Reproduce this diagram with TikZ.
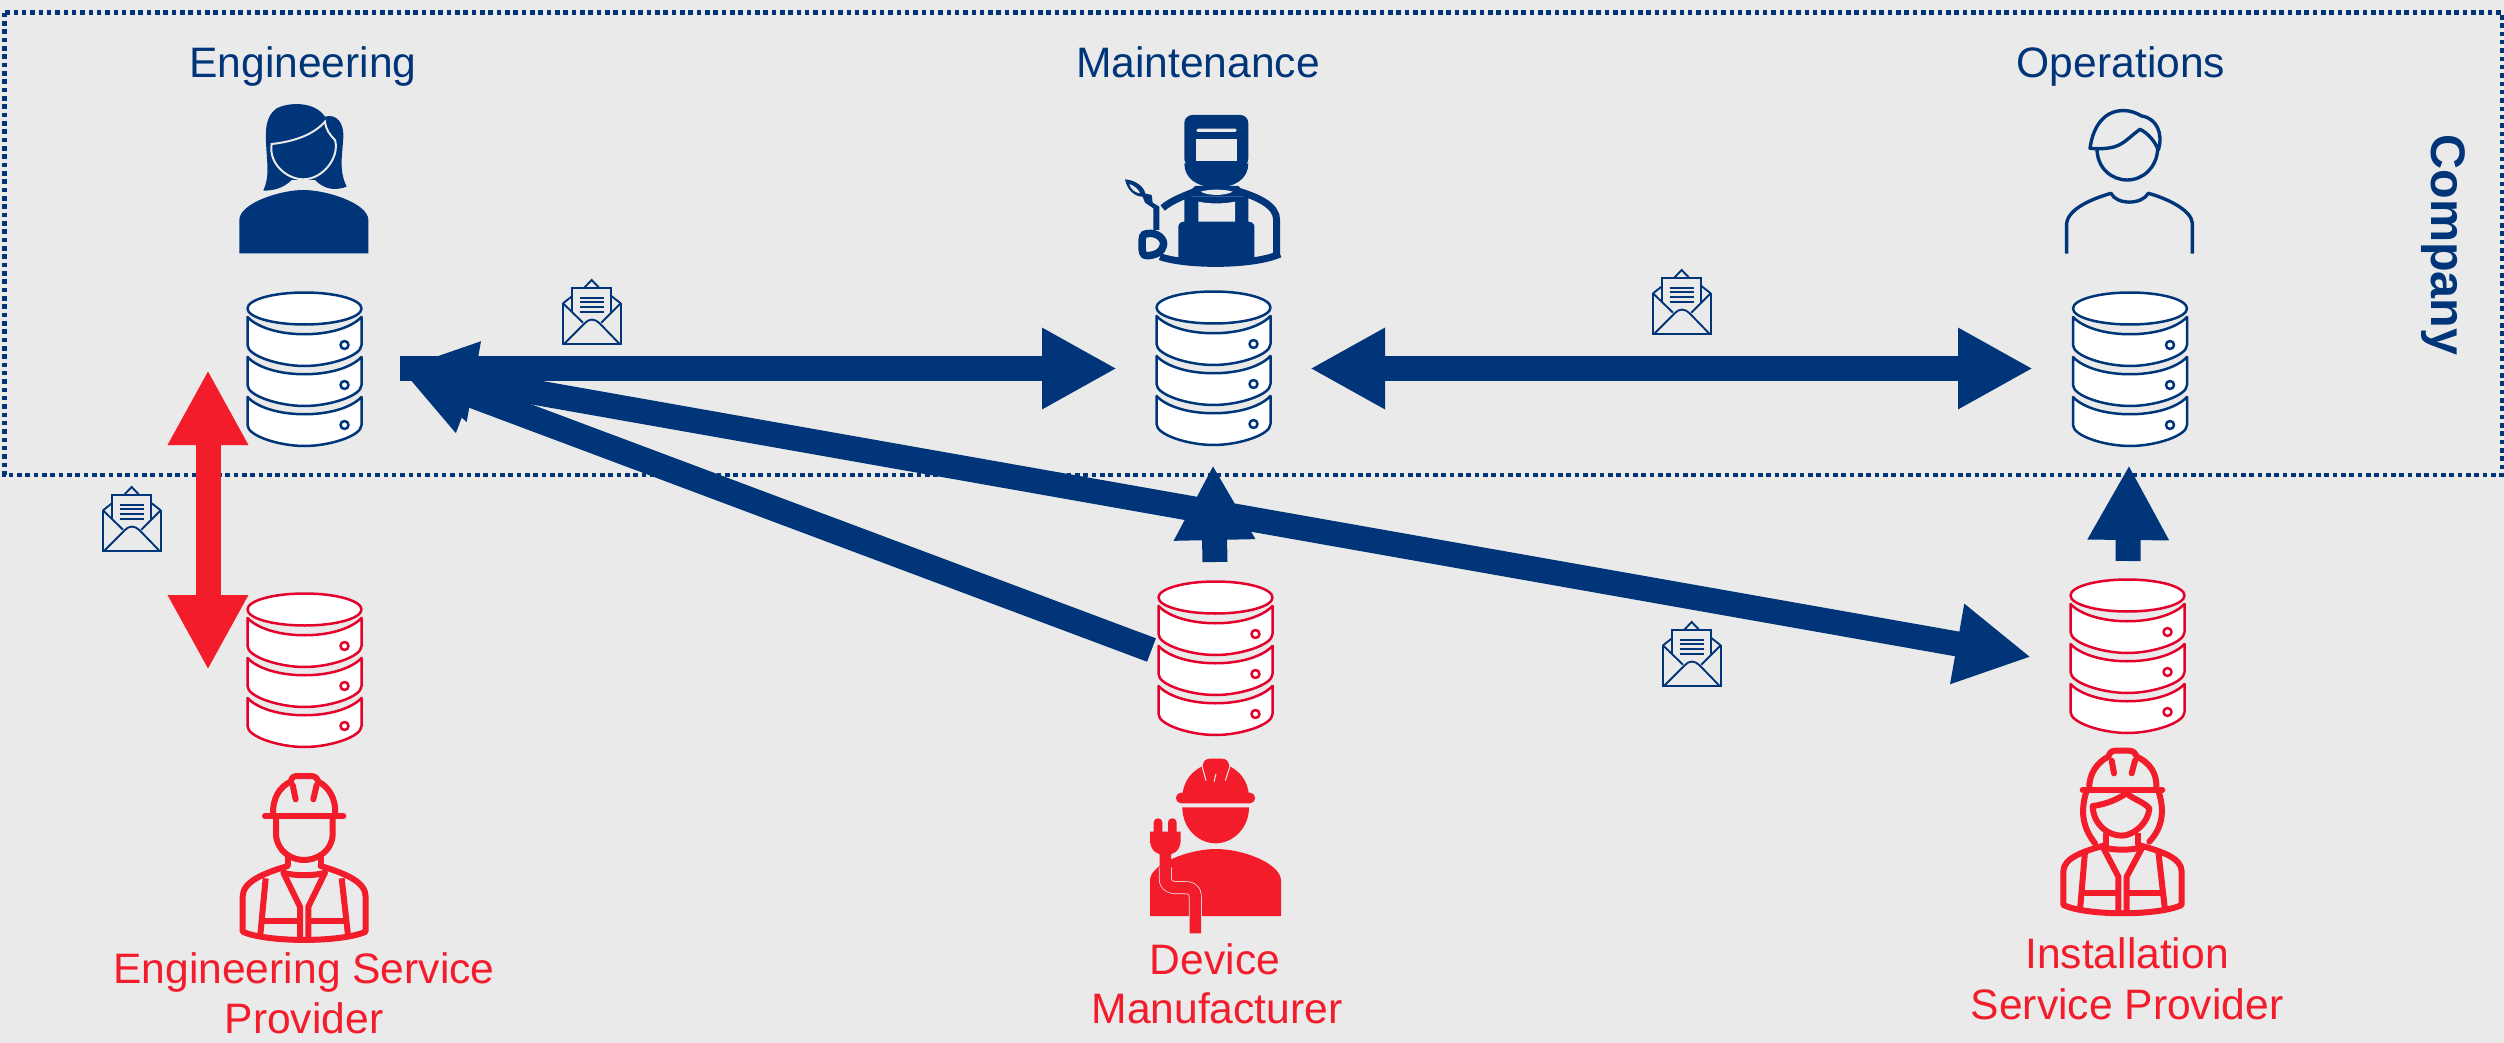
\documentclass[tikz,border=0pt]{standalone}
\usepackage{fontspec}
\setmainfont{Liberation Sans}
\usetikzlibrary{arrows.meta}
\definecolor{navy}{RGB}{0,54,121}
\definecolor{redarrow}{RGB}{242,28,43}
\definecolor{reddb}{RGB}{228,0,43}
\definecolor{bggray}{RGB}{234,234,234}
\tikzset{
  x=1pt,y=-1pt,
  lblnavy/.style={text=navy,anchor=base,font=\fontsize{42.6}{42.6}\selectfont,inner sep=0pt},
  lblred/.style={text=redarrow,anchor=base,font=\fontsize{42.6}{42.6}\selectfont,inner sep=0pt},
  blockarrow/.style={line width=25pt,navy,-{Triangle[length=75pt,width=76pt]}},
  blockboth/.style={line width=25pt,navy,{Triangle[length=75pt,width=76pt]}-{Triangle[length=75pt,width=76pt]}},
  redboth/.style={line width=25pt,redarrow,{Triangle[length=75pt,width=75pt]}-{Triangle[length=75pt,width=75pt]}},
  pics/dbicon/.style={code={
    \begin{scope}[line width=2.5pt,draw=#1,fill=white,line join=round]
      \foreach \t in {105,65,25}{
        \filldraw (-57,\t) .. controls (-35,\t+23) and (35,\t+23) .. (57,\t) -- (57,\t+28)
          .. controls (57,\t+39) and (25,\t+49) .. (0,\t+49)
          .. controls (-25,\t+49) and (-57,\t+39) .. (-57,\t+28) -- cycle;
        \filldraw (40,\t+28) circle[radius=4pt];
      }
      \filldraw (0,16.5) ellipse[x radius=57,y radius=16];
    \end{scope}
  }},
  pics/mailicon/.style={code={
    \begin{scope}[scale=1/3,line width=1.9pt,draw=navy,line join=miter]
      \draw (0,70) -- (0,193) -- (173,193) -- (173,70);
      \draw (0,70) -- (28,48) (173,70) -- (145,48) (62,25) -- (86,0) -- (110,25);
      \draw (28,95) -- (28,25) -- (145,25) -- (145,95);
      \draw (0,70) -- (60,128) (173,70) -- (115,128);
      \draw (5,190) -- (65,130) .. controls (78,115) and (95,115) .. (110,130) -- (168,190);
      \foreach \yy in {53,67,81,95}{\draw[line width=2.1pt] (50,\yy) -- (122,\yy);}
    \end{scope}
  }}
}
\begin{document}
\begin{tikzpicture}
\useasboundingbox (0,0) rectangle (2504,1043);
\fill[bggray] (0,0) rectangle (2504,1043);

% company frame
\coordinate (frameTL) at (4.5,12.7);
\coordinate (frameBR) at (2502,475);
\draw[navy,line width=4.5pt,dash pattern=on 4.6pt off 3.73pt] (frameTL) rectangle (frameBR);

% labels
\node[lblnavy] (lEng) at (303,78) {Engineering};
\node[lblnavy] (lMai) at (1198,78) {Maintenance};
\node[lblnavy] (lOps) at (2121,78) {Operations};
\node[text=navy,font=\fontsize{48.5}{48.5}\selectfont\bfseries,rotate=-90,inner sep=0pt] (lCompany) at (2443,245) {Company};
\node[lblred] (lEsp1) at (304,983) {Engineering Service};
\node[lblred] (lEsp2) at (304,1033) {Provider};
\node[lblred] (lDev1) at (1215,974) {Device};
\node[lblred] (lDev2) at (1217,1023) {Manufacturer};
\node[lblred] (lIns1) at (2127,968) {Installation};
\node[lblred] (lIns2) at (2127,1019) {Service Provider};

% databases
\pic (dbEng) at (304.5,292) {dbicon=navy};
\pic (dbMai) at (1213.5,291) {dbicon=navy};
\pic (dbOps) at (2130,292) {dbicon=navy};
\pic (dbEsp) at (304.5,593) {dbicon=reddb};
\pic (dbDev) at (1215.5,581) {dbicon=reddb};
\pic (dbIns) at (2127.5,579) {dbicon=reddb};

% mail
\pic (mailA) at (563,280) {mailicon};
\pic (mailB) at (1653,270) {mailicon};
\pic (mailC) at (1663,622) {mailicon};
\pic (mailD) at (103,487) {mailicon};

% connector ends
\coordinate (engPort) at (400,368.5);
\coordinate (maiW) at (1117,368.5);
\coordinate (maiE) at (1310,368.5);
\coordinate (opsW) at (2033,368.5);
\coordinate (insW) at (2031,657);
\coordinate (devW) at (1151.5,650);
\coordinate (devN) at (1215,562);
\coordinate (maiS) at (1213,465);
\coordinate (insN) at (2128,561);
\coordinate (opsS) at (2129,465);
\coordinate (espN) at (208,670);
\coordinate (engSW) at (208,370);

\draw[blockarrow] (devN) -- (maiS);
\draw[blockarrow] (insN) -- (opsS);
\draw[blockarrow] (engPort) -- (maiW);
\draw[blockboth] (maiE) -- (opsW);
\draw[blockarrow] (devW) -- (engPort);
\draw[blockboth] (engPort) -- (insW);
\draw[redboth] (engSW) -- (espN);

% Engineering woman
\begin{scope}[shift={(150,20)},scale=1/3]
  \fill[navy] (340,512) .. controls (358,470) and (352,440) .. (350,400)
    .. controls (345,330) and (345,290) .. (380,265)
    .. controls (420,245) and (495,245) .. (525,290)
    .. controls (560,280) and (582,310) .. (580,350)
    .. controls (578,400) and (565,450) .. (590,500)
    .. controls (550,515) and (520,505) .. (495,480) -- (425,480)
    .. controls (400,505) and (370,512) .. (340,512) -- cycle;
  \filldraw[fill=navy,draw=bggray,line width=2pt] (365,372)
    .. controls (430,365) and (490,345) .. (525,305)
    .. controls (528,330) and (540,345) .. (555,360)
    .. controls (570,410) and (520,478) .. (460,478)
    .. controls (410,478) and (355,430) .. (365,372) -- cycle;
  \fill[navy] (268,700) -- (268,600)
    .. controls (268,550) and (390,510) .. (460,510)
    .. controls (530,510) and (655,550) .. (655,600) -- (655,700) -- cycle;
\end{scope}

% Maintenance welder
\begin{scope}[shift={(1080,80)},scale=1/3]
  \fill[navy,rounded corners=8pt] (313,105) -- (505,105) -- (505,260) -- (313,260) -- cycle;
  \fill[navy] (313,250) .. controls (313,295) and (350,322) .. (409,322)
     .. controls (468,322) and (505,295) .. (505,250) -- cycle;
  \fill[bggray] (349,178) rectangle (470,243);
  \fill[bggray,rounded corners=1.5pt] (349,146) rectangle (470,156);
  \draw[navy,line width=7pt] (248,384) .. controls (275,360) and (320,345) .. (350,332);
  \draw[navy,line width=7pt] (470,332) .. controls (530,350) and (590,375) .. (590,420) -- (590,528);
  \fill[navy] (345,318) -- (475,318) -- (505,350) -- (313,350) -- cycle;
  \fill[navy] (313,350) -- (505,350) -- (505,425) .. controls (523,425) and (523,440) .. (523,440) -- (523,550) -- (295,550) -- (295,440) .. controls (295,425) and (313,425) .. (313,425) -- cycle;
  \fill[bggray] (355,365) .. controls (390,372) and (430,372) .. (465,365) -- (465,425) -- (355,425) -- cycle;
  \fill[bggray] (362,335) .. controls (385,327) and (435,327) .. (458,335) .. controls (435,348) and (385,348) .. (362,335) -- cycle;
  \draw[navy,line width=7pt] (240,530) .. controls (320,558) and (520,558) .. (600,522);
  % torch
  \fill[navy] (135,298) .. controls (170,300) and (195,325) .. (195,340) -- (215,345) -- (218,368) -- (238,380) -- (238,450) -- (220,450) -- (220,385) -- (195,368) -- (188,350) .. controls (160,350) and (140,325) .. (135,298) -- cycle;
  \fill[bggray] (148,312) .. controls (165,318) and (175,328) .. (180,340) .. controls (165,338) and (152,328) .. (148,312) -- cycle;
  \draw[navy,line width=7.5pt] (200,461) .. controls (235,455) and (255,480) .. (250,497)
     .. controls (248,515) and (225,527) .. (200,527)
     .. controls (188,527) and (186,515) .. (186,495)
     .. controls (186,470) and (188,462) .. (200,461) -- cycle;
\end{scope}

% Operations man
\begin{scope}[shift={(2000,80)},scale=1/3,navy,line width=3.4pt,line join=round]
  \draw (291,205) .. controls (291,265) and (335,300) .. (382,300) .. controls (430,300) and (472,260) .. (473,205);
  \draw (270,205) .. controls (280,130) and (320,90) .. (372,92)
     .. controls (395,92) and (410,100) .. (425,108)
     .. controls (470,115) and (490,160) .. (475,210)
     .. controls (465,185) and (445,160) .. (420,148)
     .. controls (395,165) and (375,190) .. (345,200)
     .. controls (320,207) and (295,207) .. (270,205) -- cycle;
  \draw (200,521) -- (200,430) .. controls (205,385) and (280,355) .. (333,340)
     .. controls (350,375) and (425,375) .. (445,340)
     .. controls (500,355) and (575,390) .. (577,430) -- (577,521);
\end{scope}

% Engineering service provider
\begin{scope}[shift={(200,740)},scale=1/3,redarrow,line width=6pt,line join=round,line cap=round]
  \draw (220,228) .. controls (215,175) and (240,140) .. (272,125) .. controls (275,108) and (285,108) .. (295,108) -- (330,108) .. controls (345,108) and (350,112) .. (355,125) .. controls (385,140) and (410,175) .. (405,228);
  \draw (195,228) -- (430,228);
  \draw (278,135) -- (287,178) (350,135) -- (340,178);
  \draw (228,235) -- (228,285) .. controls (232,335) and (275,360) .. (312,360) .. controls (350,360) and (395,335) .. (398,285) -- (398,235);
  \draw[line cap=butt] (263,350) -- (263,378) (362,350) -- (362,378);
  \draw (263,378) .. controls (190,400) and (128,425) .. (128,470) -- (128,575) .. controls (200,608) and (425,608) .. (497,575) -- (497,470) .. controls (497,425) and (435,400) .. (362,378);
  \draw (250,398) .. controls (280,408) and (345,408) .. (375,398);
  \draw[line cap=butt] (250,398) -- (300,500) -- (300,595) (375,398) -- (325,500) -- (325,595);
  \draw[line cap=butt] (197,415) -- (180,595) (425,415) -- (445,595);
  \draw[line cap=butt] (180,542) -- (300,542) (325,542) -- (445,542);
\end{scope}

% Device manufacturer
\begin{scope}[shift={(1110,730)},scale=1/3]
  \fill[redarrow] (217,195) .. controls (222,150) and (245,125) .. (278,108) .. controls (280,92) and (288,86) .. (300,86) -- (335,86) .. controls (348,86) and (355,92) .. (358,108) .. controls (390,125) and (412,150) .. (417,195) -- cycle;
  \fill[redarrow,rounded corners=5pt] (198,188) rectangle (435,220);
  \draw[bggray,line width=1pt] (276,108) -- (288,152) (360,108) -- (346,152) (318,132) -- (312,155);
  \fill[redarrow] (217,232) -- (417,232) .. controls (417,295) and (368,340) .. (317,340) .. controls (265,340) and (217,295) .. (217,232) -- cycle;
  \fill[redarrow] (120,558) -- (120,450) .. controls (122,400) and (240,357) .. (317,357) .. controls (400,357) and (510,400) .. (513,450) -- (513,558) -- cycle;
  \draw[bggray,line width=13pt,line join=round] (166,412) -- (166,445) .. controls (166,473) and (190,473) .. (205,473) -- (225,473) .. controls (256,473) and (256,490) .. (256,510) -- (256,570);
  \draw[redarrow,line width=11.5pt,line join=round] (166,360) -- (166,445) .. controls (166,473) and (190,473) .. (205,473) -- (225,473) .. controls (256,473) and (256,490) .. (256,510) -- (256,610);
  \fill[redarrow,rounded corners=4pt] (131,265) rectangle (157,320);
  \fill[redarrow,rounded corners=4pt] (174,265) rectangle (200,320);
  \fill[redarrow] (120,305) -- (212,305) -- (212,335) .. controls (208,365) and (190,375) .. (166,375) .. controls (142,375) and (124,365) .. (120,335) -- cycle;
\end{scope}

% Installation service provider
\begin{scope}[shift={(2030,730)},scale=1/3,redarrow,line width=6pt,line join=round,line cap=round]
  \draw (178,178) .. controls (175,130) and (205,95) .. (235,80) .. controls (240,62) and (250,62) .. (260,62) -- (295,62) .. controls (310,62) and (315,68) .. (320,80) .. controls (355,95) and (385,130) .. (378,178);
  \draw (158,180) -- (397,180);
  \draw (245,92) -- (252,130) (315,92) -- (305,130);
  \draw (168,188) .. controls (150,250) and (160,295) .. (195,340);
  \draw (387,188) .. controls (405,250) and (395,295) .. (358,335);
  \draw (188,228) .. controls (235,222) and (265,205) .. (290,190) .. controls (310,208) and (340,215) .. (358,235) .. controls (355,280) and (310,317) .. (275,317) .. controls (235,317) and (190,285) .. (188,228) -- cycle;
  \draw[line cap=butt] (228,310) -- (228,345) (325,310) -- (325,345);
  \draw (228,345) .. controls (155,365) and (100,385) .. (100,425) -- (100,525) .. controls (170,558) and (385,558) .. (455,525) -- (455,425) .. controls (455,385) and (400,365) .. (325,345);
  \draw (215,350) .. controls (245,362) and (310,362) .. (340,350);
  \draw[line cap=butt] (218,350) -- (265,440) -- (265,545) (338,350) -- (290,440) -- (290,545);
  \draw[line cap=butt] (165,365) -- (150,540) (385,365) -- (405,540);
  \draw[line cap=butt] (150,488) -- (265,488) (290,488) -- (405,488);
\end{scope}
\end{tikzpicture}
\end{document}
